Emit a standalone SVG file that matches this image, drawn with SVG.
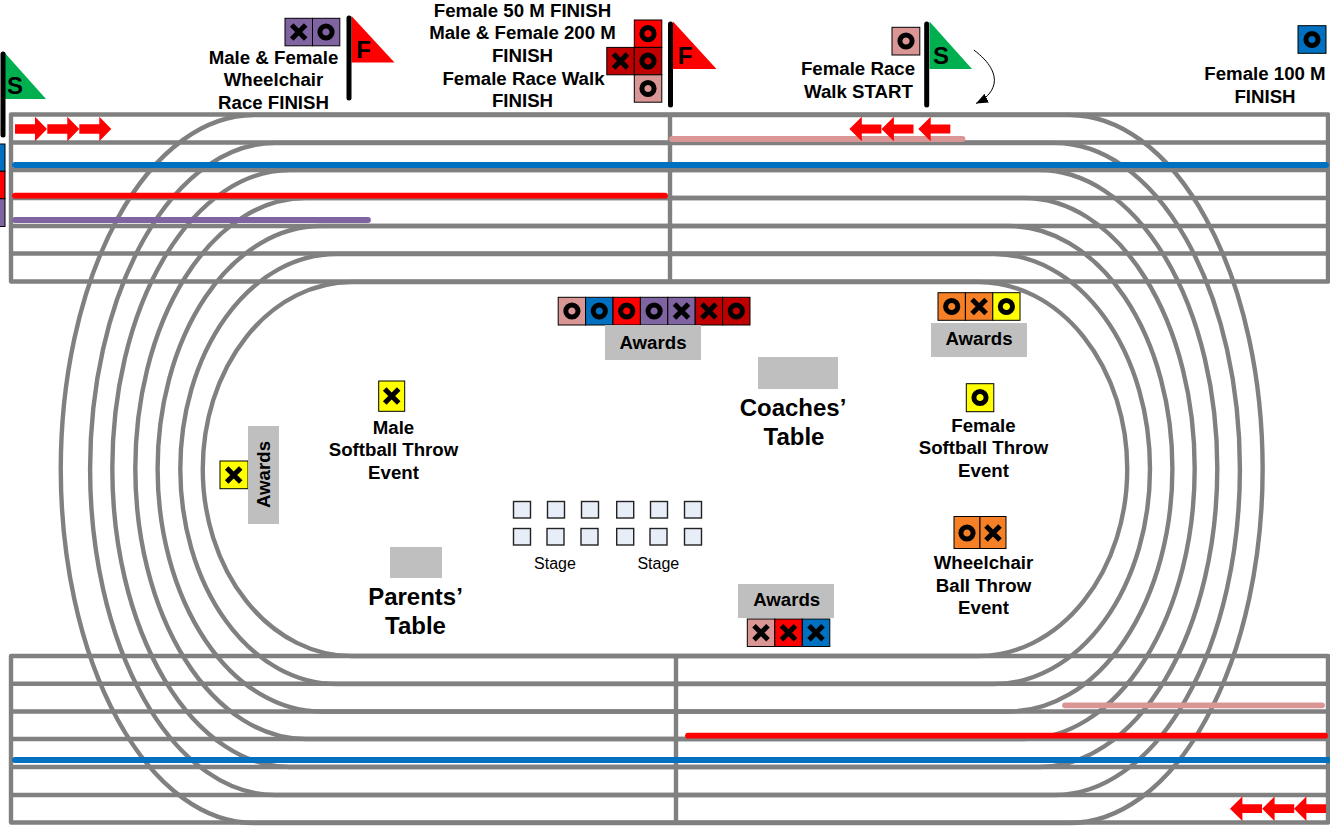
<svg xmlns="http://www.w3.org/2000/svg" width="1330" height="826" viewBox="0 0 1330 826">
<style>
text{font-family:"Liberation Sans",Arial,sans-serif;fill:#000;text-anchor:middle}
.l{font-size:18.67px;font-weight:bold}
.t{font-size:24px;font-weight:bold}
.s{font-size:16px}
.fl{font-size:24px;font-weight:bold}
.trk{fill:none;stroke:#808080;stroke-width:4.4}
.hl{fill:none;stroke:#808080;stroke-width:4.4;stroke-linejoin:round}
.run{fill:none;stroke-width:5.8;stroke-linecap:round}
.c{stroke:#000;stroke-width:1}
.pink{fill:#D99694}.blue{fill:#0070C0}.red{fill:#F00}.purple{fill:#8064A2}.dred{fill:#C00000}.org{fill:#F58025}.yel{fill:#FF0}
.gb{fill:#BFBFBF}
.st{fill:#E8EEF8;stroke:#222;stroke-width:1.4}
.pole{stroke:#000;stroke-width:5;stroke-linecap:round}
</style>
<defs>
<g id="o"><circle r="6.1" fill="none" stroke="#000" stroke-width="5"/></g>
<g id="x"><path d="M-7-7L7 7M7-7L-7 7" fill="none" stroke="#000" stroke-width="5"/></g>
<polygon id="ar" fill="#F00" points="0,-4.7 20,-4.7 20,-12.3 32,0 20,12.3 20,4.7 0,4.7"/>
<polygon id="al" fill="#F00" points="0,0 12.4,-12.3 12.4,-4.4 32,-4.4 32,4.4 12.4,4.4 12.4,12.3"/>
<marker id="ah" markerWidth="13" markerHeight="11" refX="12" refY="5" orient="auto" markerUnits="userSpaceOnUse"><path d="M0 0L12 5L0 10Z" fill="#000"/></marker>
</defs>
<rect width="1330" height="826" fill="#fff"/>
<g id="track">
<path class="trk" d="M254.2 115H1069.2A193.5 354 0 0 1 1069.2 823H254.2A193.5 354 0 0 1 254.2 115Z"/>
<path class="trk" d="M275 143H1055A185 326 0 0 1 1055 795H275A185 326 0 0 1 275 143Z"/>
<path class="trk" d="M290.3 170H1039.3A178 298.5 0 0 1 1039.3 767H290.3A178 298.5 0 0 1 290.3 170Z"/>
<path class="trk" d="M305.8 198H1024.2A170.5 270.5 0 0 1 1024.2 739H305.8A170.5 270.5 0 0 1 305.8 198Z"/>
<path class="trk" d="M321 226H1009A163.4 242.75 0 0 1 1009 711.5H321A163.4 242.75 0 0 1 321 226Z"/>
<path class="trk" d="M336.3 254H994A156 215 0 0 1 994 684H336.3A156 215 0 0 1 336.3 254Z"/>
<path class="trk" d="M351.7 282H978.3A149 187 0 0 1 978.3 656H351.7A149 187 0 0 1 351.7 282Z"/>
<path class="hl" d="M11 114.5H1328V281.5H11ZM11 142.5H1328M11 170H1328M11 198H1328M11 226H1328M11 253.5H1328M670 114.5V281.5"/>
<path class="hl" d="M11 656H1328V822.5H11ZM11 683.7H1328M11 711.5H1328M11 739H1328M11 767H1328M11 795H1328M676 656V822.5"/>
</g>
<g id="connectors">
<path class="run" stroke="#0070C0" d="M15 165H1326"/>
<path class="run" stroke="#F00" d="M15 195.7H665"/>
<path class="run" stroke="#8064A2" d="M15 220H368"/>
<path class="run" stroke="#D99694" d="M672 139H962.5"/>
<path class="run" stroke="#D99694" d="M1065 705.3H1322"/>
<path class="run" stroke="#F00" d="M688 735.7H1325"/>
<path class="run" stroke="#0070C0" d="M15 760H1330"/>
<use href="#ar" x="15" y="129"/><use href="#ar" x="47.3" y="129"/><use href="#ar" x="79.3" y="129"/>
<use href="#al" x="849.4" y="129"/><use href="#al" x="881.5" y="129"/><use href="#al" x="918.3" y="129"/>
<use href="#al" x="1230" y="808.7"/><use href="#al" x="1262.2" y="808.7"/><use href="#al" x="1294" y="808.7"/>
<path d="M973.8 50C990 62 996 74 994 84C992 93 985 99 976 103.5" fill="none" stroke="#000" stroke-width="1" marker-end="url(#ah)"/>
</g>
<g id="start-left">
<polygon fill="#00B050" points="4,52 46,99 4,99"/>
<line class="pole" x1="3" y1="54" x2="3" y2="135"/>
<text class="fl" x="15" y="94">S</text>
<rect class="c blue" x="-25" y="144" width="30" height="27.3"/>
<rect class="c red" x="-25" y="171.3" width="30" height="27.5"/>
<rect class="c purple" x="-25" y="198.8" width="30" height="27.7"/>
</g>
<g id="wheelchair-finish">
<rect class="c purple" x="285" y="18.3" width="27.5" height="27.5"/><use href="#x" x="298.7" y="32"/>
<rect class="c purple" x="312.5" y="18.3" width="27.3" height="27.5"/><use href="#o" x="326" y="32"/>
<polygon fill="#F00" points="351.5,16 394.5,62.5 351.5,62.5"/>
<line class="pole" x1="349" y1="18" x2="349" y2="98"/>
<text class="fl" x="363.5" y="57.5">F</text>
<text class="l" x="273.5" y="63.7">Male &amp; Female</text>
<text class="l" x="273.5" y="86">Wheelchair</text>
<text class="l" x="273.5" y="108.5">Race FINISH</text>
</g>
<g id="multi-finish">
<rect class="c red" x="634.3" y="20" width="27.5" height="27.4"/><use href="#o" x="648" y="33.7"/>
<rect class="c dred" x="606.8" y="47.4" width="27.5" height="27.4"/><use href="#x" x="620.5" y="61"/>
<rect class="c dred" x="634.3" y="47.4" width="27.5" height="27.4"/><use href="#o" x="648" y="61"/>
<rect class="c pink" x="634.3" y="74.8" width="27.5" height="27.4"/><use href="#o" x="648" y="88.5"/>
<polygon fill="#F00" points="673,21.5 716.5,69 673,69"/>
<line class="pole" x1="670.5" y1="24" x2="670.5" y2="105"/>
<text class="fl" x="685" y="64">F</text>
<text class="l" x="522.5" y="16.5">Female 50 M FINISH</text>
<text class="l" x="522.5" y="39">Male &amp; Female 200 M</text>
<text class="l" x="522.5" y="62">FINISH</text>
<text class="l" x="523.5" y="84.5">Female Race Walk</text>
<text class="l" x="522.5" y="107">FINISH</text>
</g>
<g id="race-walk-start">
<rect class="c pink" x="892" y="27.3" width="27.8" height="27.7"/><use href="#o" x="906" y="41"/>
<polygon fill="#00B050" points="929.5,21.5 972,69 929.5,69"/>
<line class="pole" x1="926.7" y1="24" x2="926.7" y2="105"/>
<text class="fl" x="941" y="64">S</text>
<text class="l" x="858" y="75">Female Race</text>
<text class="l" x="858.5" y="97.5">Walk START</text>
</g>
<g id="f100-finish">
<rect class="c blue" x="1298" y="25.7" width="28" height="27.6"/><use href="#o" x="1312" y="39.5"/>
<text class="l" x="1265" y="80">Female 100 M</text>
<text class="l" x="1265" y="102.5">FINISH</text>
</g>
<g id="awards-top">
<rect class="c pink" x="558.2" y="297.3" width="27.4" height="27.7"/><use href="#o" x="571.9" y="311"/>
<rect class="c blue" x="585.6" y="297.3" width="27.4" height="27.7"/><use href="#o" x="599.3" y="311"/>
<rect class="c red" x="613" y="297.3" width="27.4" height="27.7"/><use href="#o" x="626.7" y="311"/>
<rect class="c purple" x="640.4" y="297.3" width="27.4" height="27.7"/><use href="#o" x="654.1" y="311"/>
<rect class="c purple" x="667.8" y="297.3" width="27.4" height="27.7"/><use href="#x" x="681.5" y="311"/>
<rect class="c dred" x="695.2" y="297.3" width="27.4" height="27.7"/><use href="#x" x="708.9" y="311"/>
<rect class="c dred" x="722.6" y="297.3" width="27.4" height="27.7"/><use href="#o" x="736.3" y="311"/>
<rect class="gb" x="605" y="325" width="96" height="35"/>
<text class="l" x="653" y="349">Awards</text>
</g>
<g id="awards-right">
<rect class="c org" x="938" y="292.7" width="27.4" height="27.6"/><use href="#o" x="951.7" y="306.5"/>
<rect class="c org" x="965.4" y="292.7" width="27.4" height="27.6"/><use href="#x" x="979.1" y="306.5"/>
<rect class="c yel" x="992.8" y="292.7" width="27.2" height="27.6"/><use href="#o" x="1006.4" y="306.5"/>
<rect class="gb" x="931" y="323" width="96" height="34"/>
<text class="l" x="979" y="345">Awards</text>
</g>
<g id="coaches-table">
<rect class="gb" x="758" y="357" width="80" height="32"/>
<text class="t" x="793" y="415.7">Coaches’</text>
<text class="t" x="794" y="444.5">Table</text>
</g>
<g id="female-softball">
<rect class="c yel" x="966.3" y="383.7" width="27.5" height="28"/><use href="#o" x="980" y="397.5"/>
<text class="l" x="983.5" y="432">Female</text>
<text class="l" x="983.5" y="454">Softball Throw</text>
<text class="l" x="983.5" y="476.5">Event</text>
</g>
<g id="male-softball">
<rect class="c yel" x="378.7" y="381" width="26" height="30.3"/><use href="#x" x="391.7" y="396"/>
<text class="l" x="393.5" y="433.5">Male</text>
<text class="l" x="393.5" y="456">Softball Throw</text>
<text class="l" x="393.5" y="478.5">Event</text>
</g>
<g id="awards-left">
<rect class="c yel" x="220" y="461" width="28" height="27.7"/><use href="#x" x="233.7" y="475"/>
<rect class="gb" x="248" y="426" width="31" height="98"/>
<text class="l" transform="translate(270 474.5) rotate(-90)">Awards</text>
</g>
<g id="stage">
<rect class="st" x="513.5" y="501.5" width="17" height="16.5"/><rect class="st" x="547.5" y="501.5" width="17" height="16.5"/><rect class="st" x="581.5" y="501.5" width="17" height="16.5"/><rect class="st" x="616.7" y="501.5" width="17" height="16.5"/><rect class="st" x="650.5" y="501.5" width="17" height="16.5"/><rect class="st" x="684.5" y="501.5" width="17" height="16.5"/>
<rect class="st" x="513.5" y="528.5" width="17" height="16.5"/><rect class="st" x="547" y="528.5" width="17" height="16.5"/><rect class="st" x="581" y="528.5" width="17" height="16.5"/><rect class="st" x="616.7" y="528.5" width="17" height="16.5"/><rect class="st" x="650" y="528.5" width="17" height="16.5"/><rect class="st" x="684.5" y="528.5" width="17" height="16.5"/>
<text class="s" x="555" y="569">Stage</text>
<text class="s" x="658.3" y="569">Stage</text>
</g>
<g id="wheelchair-ball">
<rect class="c org" x="954" y="516.5" width="26" height="32"/><use href="#o" x="967" y="533"/>
<rect class="c org" x="980" y="516.5" width="26" height="32"/><use href="#x" x="993" y="533"/>
<text class="l" x="983.5" y="569">Wheelchair</text>
<text class="l" x="983.5" y="591.5">Ball Throw</text>
<text class="l" x="983.5" y="614">Event</text>
</g>
<g id="parents-table">
<rect class="gb" x="390" y="547" width="52" height="31"/>
<text class="t" x="415.5" y="604.7">Parents’</text>
<text class="t" x="415.5" y="633.7">Table</text>
</g>
<g id="awards-bottom">
<rect class="gb" x="738" y="584" width="96" height="34"/>
<text class="l" x="786.7" y="606">Awards</text>
<rect class="c pink" x="747.3" y="619" width="27.5" height="27.5"/><use href="#x" x="761" y="632.7"/>
<rect class="c red" x="774.8" y="619" width="27.5" height="27.5"/><use href="#x" x="788.5" y="632.7"/>
<rect class="c blue" x="802.3" y="619" width="27.5" height="27.5"/><use href="#x" x="816" y="632.7"/>
</g>
</svg>
